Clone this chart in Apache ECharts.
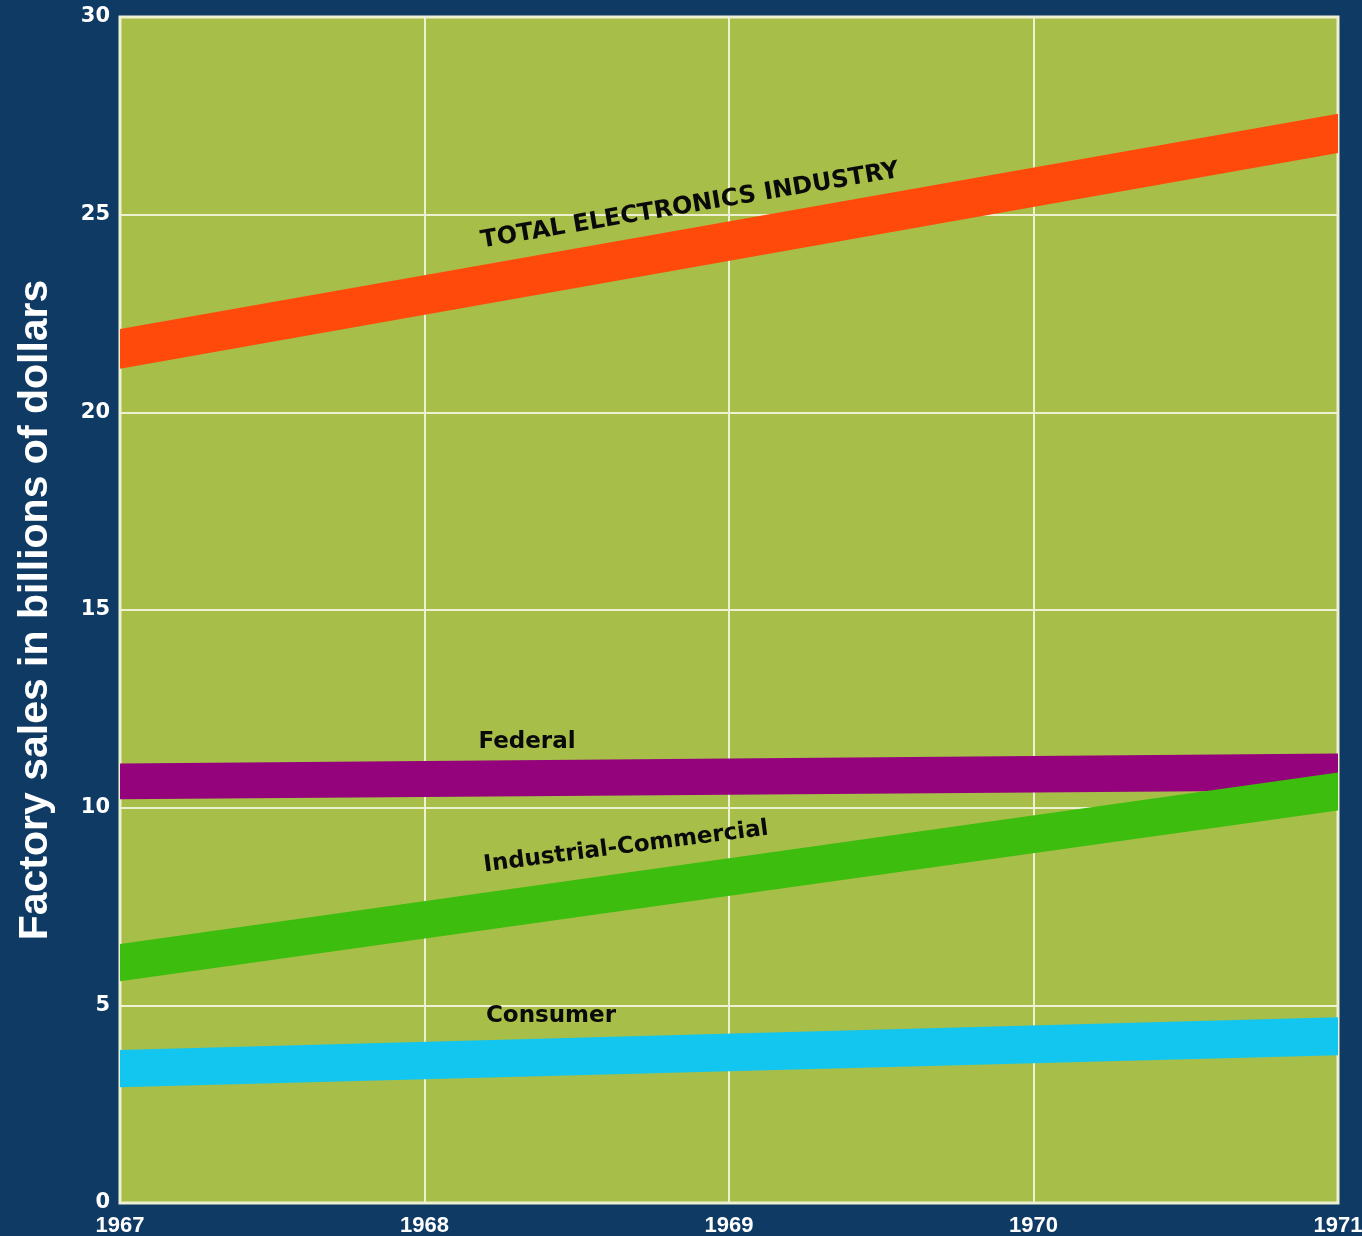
<!DOCTYPE html>
<html>
<head>
<meta charset="utf-8">
<script src="https://cdn.jsdelivr.net/npm/echarts@6/dist/echarts.min.js"></script>
<style>
  html, body { margin: 0; padding: 0; background: #0e3a64; }
  #chart { width: 1362px; height: 1236px; }
</style>
</head>
<body>
<div id="chart"></div>
<script>
// ---- Data (billions of dollars) ----
const bandYears = [1967, 1971];
const yTicks = [0, 5, 10, 15, 20, 25, 30];
const xTicks = [1967, 1968, 1969, 1970, 1971];

const totalLower = [21.10, 26.56];
const totalUpper = [22.11, 27.55];
const federalLower = [10.21, 10.44];
const federalUpper = [11.12, 11.37];
const industrialLower = [5.61, 9.93];
const industrialUpper = [6.55, 10.89];
const consumerLower = [2.93, 3.74];
const consumerUpper = [3.87, 4.70];

const bandNames = ['TOTAL ELECTRONICS INDUSTRY', 'Federal', 'Industrial-Commercial', 'Consumer'];
const bandColors = ['#ff4a0c', '#95037c', '#3dbd0e', '#12c6f0'];
const bandLowers = [totalLower, federalLower, industrialLower, consumerLower];
const bandUppers = [totalUpper, federalUpper, industrialUpper, consumerUpper];

const series = bandNames.map((name, i) => ({
  name: name,
  type: 'custom',
  coordinateSystem: 'cartesian2d',
  silent: true,
  z: 2 + i,
  // one data row per year: [year, lower, upper]
  data: bandYears.map((y, k) => [y, bandLowers[i][k], bandUppers[i][k]]),
  encode: { x: 0, y: [1, 2] },
  renderItem: function (params, api) {
    if (params.dataIndex !== 0) return null;
    const lowers = bandLowers[i], uppers = bandUppers[i];
    const top = bandYears.map((y, k) => api.coord([y, uppers[k]]));
    const bottom = bandYears.map((y, k) => api.coord([y, lowers[k]])).reverse();
    return {
      type: 'polygon',
      shape: { points: top.concat(bottom) },
      style: { fill: bandColors[i], stroke: null }
    };
  }
}));

const labelFont = 'bold 23px "DejaVu Sans"';
const chart = echarts.init(document.getElementById('chart'), null, { renderer: 'canvas' });
chart.setOption({
  backgroundColor: '#0e3a64',
  animation: false,
  grid: {
    left: 120, right: 24, top: 17, bottom: 33,
    containLabel: false,
    outerBoundsMode: 'none',
    show: true,
    backgroundColor: '#a7bf49',
    borderColor: '#f2f0d4',
    borderWidth: 3
  },
  xAxis: {
    type: 'value',
    min: xTicks[0], max: xTicks[xTicks.length - 1], interval: 1,
    axisLine: { show: false },
    axisTick: { show: false },
    splitLine: { show: true, lineStyle: { color: '#eef0d2', width: 2 } },
    axisLabel: {
      color: '#ffffff', fontFamily: 'Liberation Sans', fontWeight: 'bold', fontSize: 22,
      margin: 12,
      formatter: v => String(v)
    }
  },
  yAxis: {
    type: 'value',
    min: yTicks[0], max: yTicks[yTicks.length - 1], interval: 5,
    axisLine: { show: false },
    axisTick: { show: false },
    splitLine: { show: true, lineStyle: { color: '#eef0d2', width: 2 } },
    axisLabel: {
      color: '#ffffff', fontFamily: 'DejaVu Sans', fontWeight: 'bold', fontSize: 21,
      margin: 10
    },
    name: 'Factory sales in billions of dollars',
    nameLocation: 'middle',
    nameRotate: 90,
    nameGap: 64,
    nameTextStyle: {
      color: '#ffffff', fontFamily: 'Liberation Sans', fontWeight: 'bold', fontSize: 41
    }
  },
  series: series,
  graphic: [
    { type: 'text', x: 690, y: 206, rotation: 9.6 * Math.PI / 180, z: 100,
      style: { text: 'TOTAL ELECTRONICS INDUSTRY', font: 'bold 24px "DejaVu Sans"', fill: '#0a0a0a', align: 'center', verticalAlign: 'middle' } },
    { type: 'text', x: 527, y: 742, z: 100,
      style: { text: 'Federal', font: labelFont, fill: '#0a0a0a', align: 'center', verticalAlign: 'middle' } },
    { type: 'text', x: 626, y: 847, rotation: 7.4 * Math.PI / 180, z: 100,
      style: { text: 'Industrial-Commercial', font: labelFont, fill: '#0a0a0a', align: 'center', verticalAlign: 'middle' } },
    { type: 'text', x: 551, y: 1016, z: 100,
      style: { text: 'Consumer', font: labelFont, fill: '#0a0a0a', align: 'center', verticalAlign: 'middle' } }
  ]
});
</script>
</body>
</html>
